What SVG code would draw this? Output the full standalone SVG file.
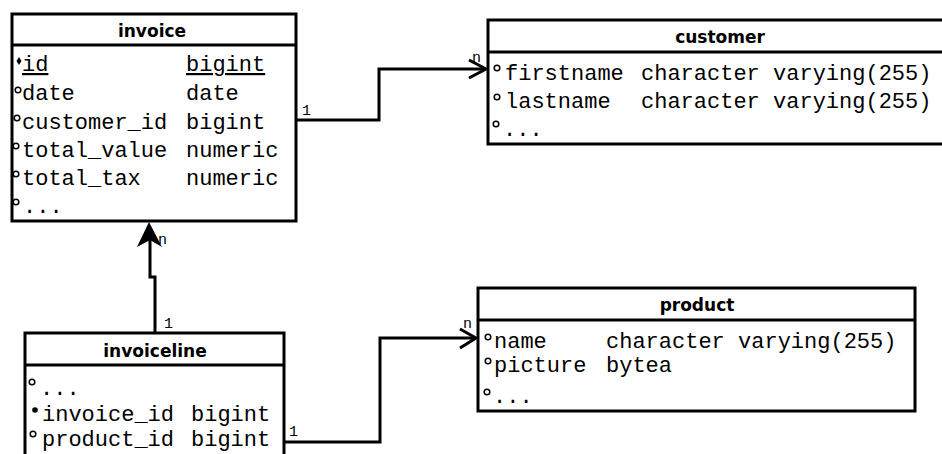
<svg xmlns="http://www.w3.org/2000/svg" width="942" height="454" viewBox="0 0 942 454">
<style>
  .box{fill:#fff;stroke:#000;stroke-width:3}
  .sep{stroke:#000;stroke-width:3}
  .hd{font-family:"DejaVu Sans",sans-serif;font-weight:bold;font-size:17px;text-anchor:middle;fill:#000}
  .t{font-family:"Liberation Mono",monospace;font-size:22px;fill:#000}
  .mk{fill:none;stroke:#000;stroke-width:1.5}
  .fm{fill:#000}
  .ln{fill:none;stroke:#000;stroke-width:3}
  .lb{font-family:"Liberation Mono",monospace;font-size:15px;fill:#000}
</style>
<rect width="942" height="454" fill="#fff"/>
<g id="connectors">
  <path class="ln" d="M296,120 H379 V69 H485"/>
  <path class="ln" d="M469,60 L486,69 L469,78" stroke-linejoin="miter"/>
  <path class="ln" d="M155,333 V277 H150 V240"/>
  <polygon class="fm" points="149,222 137,247 150,240 162,247"/>
  <path class="ln" d="M284,442 H380 V338 H475"/>
  <path class="ln" d="M460,329 L476,338 L460,348"/>
  <text class="lb" x="302" y="115">1</text>
  <text class="lb" x="472" y="62">n</text>
  <text class="lb" x="158" y="244">n</text>
  <text class="lb" x="164" y="328">1</text>
  <text class="lb" x="289" y="436">1</text>
  <text class="lb" x="463" y="328">n</text>
</g>
<g id="invoice">
  <rect class="box" x="12" y="14" width="284" height="207"/>
  <line class="sep" x1="12" y1="45" x2="296" y2="45"/>
  <text class="hd" x="152" y="37">invoice</text>
  <polygon class="fm" points="19,57 21.5,61 19,65 16.5,61"/>
  <text class="t" x="22" y="71" text-decoration="underline">id</text>
  <text class="t" x="186" y="71" text-decoration="underline">bigint</text>
  <circle class="mk" cx="18" cy="90" r="2.8"/>
  <text class="t" x="22" y="100">date</text>
  <text class="t" x="186" y="100">date</text>
  <circle class="mk" cx="17" cy="118" r="2.8"/>
  <text class="t" x="22" y="129">customer_id</text>
  <text class="t" x="186" y="129">bigint</text>
  <circle class="mk" cx="16" cy="146" r="2.8"/>
  <text class="t" x="22" y="157">total_value</text>
  <text class="t" x="186" y="157">numeric</text>
  <circle class="mk" cx="16" cy="174" r="2.8"/>
  <text class="t" x="22" y="185">total_tax</text>
  <text class="t" x="186" y="185">numeric</text>
  <circle class="mk" cx="16" cy="202" r="2.8"/>
  <text class="t" x="23" y="213">...</text>
</g>
<g id="customer">
  <rect class="box" x="488" y="20" width="470" height="124"/>
  <line class="sep" x1="488" y1="52" x2="958" y2="52"/>
  <text class="hd" x="720" y="43">customer</text>
  <circle class="mk" cx="497" cy="68" r="2.8"/>
  <text class="t" x="505" y="80">firstname</text>
  <text class="t" x="641" y="80">character varying(255)</text>
  <circle class="mk" cx="497" cy="97" r="2.8"/>
  <text class="t" x="505" y="108">lastname</text>
  <text class="t" x="641" y="108">character varying(255)</text>
  <circle class="mk" cx="496" cy="124" r="2.8"/>
  <text class="t" x="503" y="136">...</text>
</g>
<g id="invoiceline">
  <rect class="box" x="25" y="333" width="259" height="140"/>
  <line class="sep" x1="25" y1="365" x2="284" y2="365"/>
  <text class="hd" x="155" y="357">invoiceline</text>
  <circle class="mk" cx="32" cy="382" r="2.8"/>
  <text class="t" x="40" y="395">...</text>
  <circle class="fm" cx="35" cy="410" r="2.8"/>
  <text class="t" x="42" y="421">invoice_id</text>
  <text class="t" x="191" y="421">bigint</text>
  <circle class="mk" cx="33" cy="434" r="2.8"/>
  <text class="t" x="42" y="446">product_id</text>
  <text class="t" x="191" y="446">bigint</text>
</g>
<g id="product">
  <rect class="box" x="478" y="288" width="437" height="123"/>
  <line class="sep" x1="478" y1="320" x2="915" y2="320"/>
  <text class="hd" x="697" y="311">product</text>
  <circle class="mk" cx="488" cy="337" r="2.8"/>
  <text class="t" x="494" y="348">name</text>
  <text class="t" x="606" y="348">character varying(255)</text>
  <circle class="mk" cx="488" cy="361" r="2.8"/>
  <text class="t" x="494" y="372">picture</text>
  <text class="t" x="606" y="372">bytea</text>
  <circle class="mk" cx="487" cy="392" r="2.8"/>
  <text class="t" x="493" y="403">...</text>
</g>
</svg>
